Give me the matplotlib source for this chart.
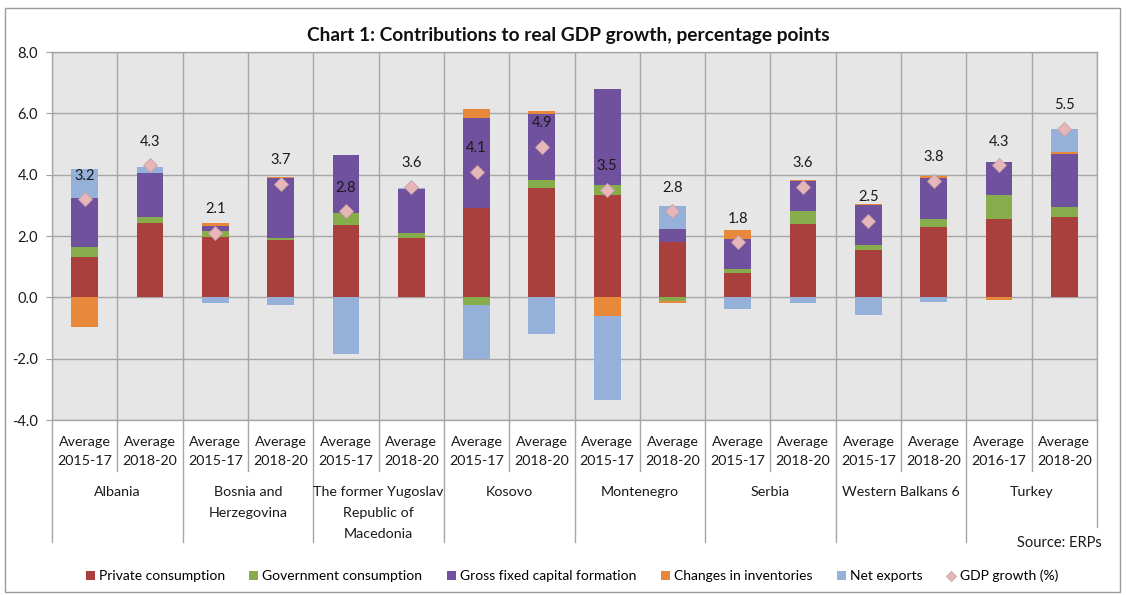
import matplotlib
matplotlib.use("Agg")
import matplotlib.pyplot as plt
import matplotlib.transforms as mtransforms
from matplotlib.patches import Patch, Rectangle
from matplotlib.lines import Line2D
import numpy as np

plt.rcParams['font.family'] = ['Lato', 'DejaVu Sans']

# ---------------- data ----------------
groups = ["Albania", "Bosnia and\nHerzegovina", "The former Yugoslav\nRepublic of\nMacedonia",
          "Kosovo", "Montenegro", "Serbia", "Western Balkans 6", "Turkey"]
periods = ["Average\n2015-17", "Average\n2018-20"] * 7 + ["Average\n2016-17", "Average\n2018-20"]

private = [1.32, 2.41, 1.97, 1.86, 2.35, 1.92, 2.90, 3.58, 3.33, 1.81, 0.80, 2.39, 1.54, 2.30, 2.55, 2.63]
government = [0.32, 0.21, 0.20, 0.09, 0.40, 0.18, -0.25, 0.24, 0.33, -0.13, 0.13, 0.42, 0.18, 0.25, 0.78, 0.30]
gfcf = [1.61, 1.42, 0.15, 1.93, 1.89, 1.42, 2.96, 2.15, 3.13, 0.41, 0.96, 0.97, 1.28, 1.35, 1.09, 1.73]
inventories = [-0.96, 0.00, 0.09, 0.05, 0.00, 0.00, 0.27, 0.09, -0.62, -0.04, 0.30, 0.06, 0.05, 0.06, -0.08, 0.09]
net_exports = [0.92, 0.22, -0.20, -0.25, -1.86, 0.06, -1.75, -1.21, -2.74, 0.76, -0.37, -0.20, -0.56, -0.15, 0.00, 0.74]
gdp_growth = [3.2, 4.3, 2.1, 3.7, 2.8, 3.6, 4.1, 4.9, 3.5, 2.8, 1.8, 3.6, 2.5, 3.8, 4.3, 5.5]

series_names = ["Private consumption", "Government consumption", "Gross fixed capital formation",
                "Changes in inventories", "Net exports"]
series_values = [private, government, gfcf, inventories, net_exports]
series_colors = ["#A9403E", "#86AC4B", "#70519E", "#E8883A", "#95B1D9"]

# ---------------- figure ----------------
W, H = 1126, 595
fig = plt.figure(figsize=(W / 100, H / 100), dpi=100)
fig.patch.set_facecolor("white")

ax = fig.add_axes([52 / W, 1 - 420 / H, (1097 - 52) / W, (420 - 52) / H])
ax.set_facecolor("#E6E6E6")

n = len(periods)
x = np.arange(n)
pos_bottom = np.zeros(n)
neg_bottom = np.zeros(n)
for name, vals, col in zip(series_names, series_values, series_colors):
    v = np.array(vals, dtype=float)
    bottoms = np.where(v >= 0, pos_bottom, neg_bottom)
    ax.bar(x, v, bottom=bottoms, width=0.41, color=col, label=name, zorder=3, linewidth=0)
    pos_bottom = pos_bottom + np.where(v > 0, v, 0)
    neg_bottom = neg_bottom + np.where(v < 0, v, 0)

ax.plot(x, gdp_growth, linestyle="none", marker="D", markersize=6.8,
        markerfacecolor="#E6B6B8", markeredgecolor="#C9A0A8", markeredgewidth=0.6,
        zorder=5, label="GDP growth (%)")
for xi, g in zip(x, gdp_growth):
    ax.annotate(f"{g:.1f}", (xi, g), xytext=(0, 17), textcoords="offset points",
                ha="center", va="center", fontsize=10.5, color="#1a1a1a", zorder=6)

ax.set_xlim(-0.5, n - 0.5)
ax.set_ylim(-4, 8)
ax.set_yticks(np.arange(-4, 8.1, 2))
ax.set_yticklabels([f"{t:.1f}" for t in np.arange(-4, 8.1, 2)], fontsize=10.5, color="#1a1a1a")
ax.tick_params(axis="y", length=4, color="#A0A0A0", pad=6)
ax.set_xticks(np.arange(-0.5, n, 1.0), minor=False)
ax.tick_params(axis="x", length=0, labelbottom=False)
ax.grid(True, color="#A6A6A6", linewidth=1.0, zorder=0)
ax.set_axisbelow(True)
for sp in ax.spines.values():
    sp.set_color("#A6A6A6")
    sp.set_linewidth(1.0)

# ---------------- multi-level category axis ----------------
trans = mtransforms.blended_transform_factory(ax.transData, fig.transFigure)

def fy(py):
    return 1 - py / H

for xi, lab in zip(x, periods):
    ax.text(xi, fy(451.5), lab, transform=trans, ha="center", va="center",
            fontsize=10.3, linespacing=1.75, color="#1a1a1a", clip_on=False)

for gi, gname in enumerate(groups):
    ax.text(2 * gi + 0.5, fy(486.5), gname, transform=trans, ha="center", va="top",
            fontsize=10.3, linespacing=1.85, color="#1a1a1a", clip_on=False)

line_col = "#A6A6A6"
for b in np.arange(-0.5, n, 1.0):
    if b == n - 0.5:
        y_end = 527
    elif int(b + 0.5) % 2 == 0:
        y_end = 542
    else:
        y_end = 471
    ax.add_line(Line2D([b, b], [fy(420), fy(y_end)], transform=trans, color=line_col,
                       linewidth=1.0, clip_on=False))

# ---------------- title, source, legend ----------------
fig.text(568 / W, fy(35), "Chart 1: Contributions to real GDP growth, percentage points",
         ha="center", va="center", fontsize=13.8, fontweight="bold", color="#111111")
fig.text(1102 / W, fy(543), "Source: ERPs", ha="right", va="center", fontsize=10.5, color="#1a1a1a")

handles = [Patch(facecolor=c, edgecolor="none") for c in series_colors]
handles.append(Line2D([], [], linestyle="none", marker="D", markersize=5.5,
                      markerfacecolor="#E6B6B8", markeredgecolor="#C9A0A8", markeredgewidth=0.6))
labels = series_names + ["GDP growth (%)"]
leg = fig.legend(handles, labels, ncol=6, loc="center", bbox_to_anchor=(572 / W, fy(576)),
                 frameon=False, fontsize=10.0, handlelength=0.65, handleheight=0.65,
                 handletextpad=0.3, columnspacing=1.75, borderaxespad=0)

# outer chart border
fig.patches.append(Rectangle((5 / W, fy(592)), (1120 - 5) / W, (592 - 8) / H,
                             transform=fig.transFigure, fill=False, edgecolor="#9A9A9A",
                             linewidth=1.0))

fig.savefig("out.png", dpi=100)
